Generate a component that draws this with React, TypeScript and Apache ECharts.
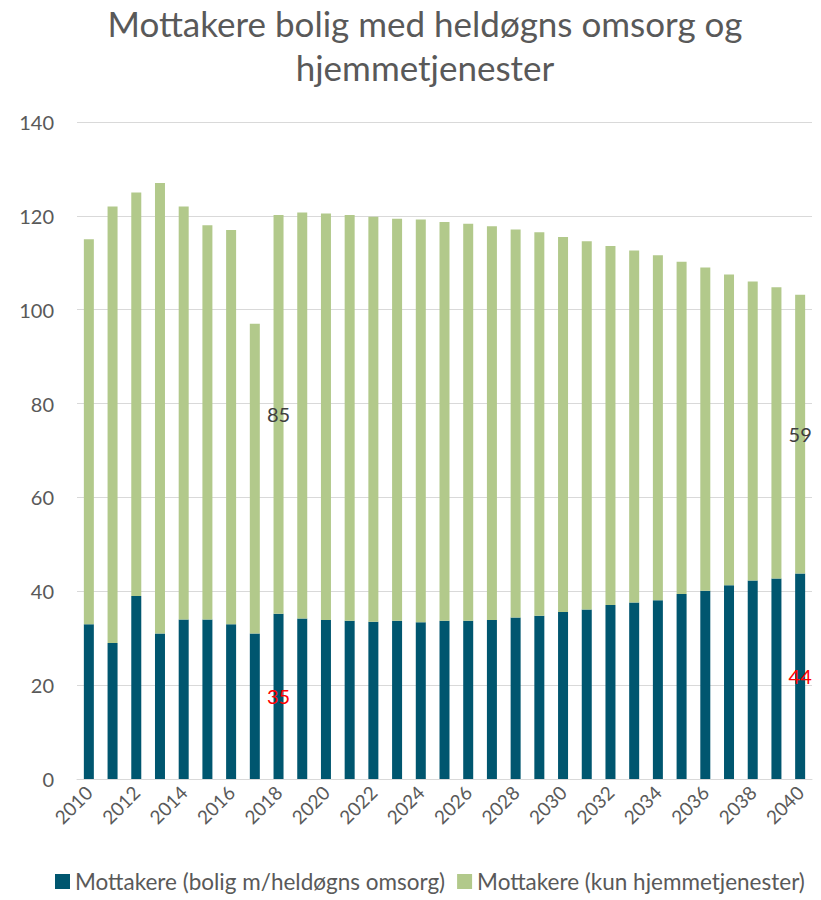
import React, { useEffect, useRef } from "react";
import * as echarts from "echarts";

const years: string[] = [
  "2010","2011","2012","2013","2014","2015","2016","2017","2018","2019",
  "2020","2021","2022","2023","2024","2025","2026","2027","2028","2029",
  "2030","2031","2032","2033","2034","2035","2036","2037","2038","2039","2040",
];

const boligHeldogns: number[] = [
  33, 29, 39, 31, 34, 34, 33, 31, 35.2, 34.2,
  33.9, 33.7, 33.5, 33.7, 33.4, 33.7, 33.7, 33.9, 34.4, 34.8,
  35.6, 36.1, 37.1, 37.6, 38.1, 39.4, 40.1, 41.3, 42.3, 42.7, 43.8,
];

const kunHjemmetjenester: number[] = [
  82, 93, 86, 96, 88, 84, 84, 66, 85.0, 86.5,
  86.6, 86.5, 86.3, 85.7, 85.8, 85.0, 84.6, 83.9, 82.7, 81.7,
  79.9, 78.5, 76.5, 75.0, 73.5, 70.8, 68.9, 66.2, 63.7, 62.1, 59.4,
];

const labelledIndexes: number[] = [8, 30];

const seriesNames: string[] = [
  "Mottakere (bolig m/heldøgns omsorg)",
  "Mottakere (kun hjemmetjenester)",
];

const FONT = "Lato, 'Open Sans', sans-serif";

export default function App() {
  const ref = useRef<HTMLDivElement>(null);

  useEffect(() => {
    document.body.style.margin = "0";
    if (!ref.current) return;
    const chart = echarts.init(ref.current, undefined, { renderer: "svg" });

    const darkData = boligHeldogns.map((v, i) =>
      labelledIndexes.includes(i)
        ? { value: v, label: { show: true, color: "#FF0000" } }
        : v
    );
    const greenData = kunHjemmetjenester.map((v, i) =>
      labelledIndexes.includes(i)
        ? { value: v, label: { show: true, color: "#404040" } }
        : v
    );

    chart.setOption({
      animation: false,
      textStyle: { fontFamily: FONT },
      title: {
        text: "Mottakere bolig med heldøgns omsorg og\nhjemmetjenester",
        left: 420,
        textAlign: "center",
        top: -4,
        textStyle: {
          fontFamily: FONT,
          fontSize: 35,
          fontWeight: "normal",
          color: "#595959",
          lineHeight: 44,
        },
      },
      legend: {
        bottom: 2,
        left: 50,
        width: 790,
        itemWidth: 15,
        itemHeight: 15,
        itemGap: 12,
        icon: "rect",
        textStyle: { fontFamily: FONT, fontSize: 22.5, color: "#595959" },
        data: seriesNames,
      },
      grid: { left: 77, right: 9, top: 122, bottom: 121, containLabel: false },
      xAxis: {
        type: "category",
        data: years,
        axisTick: { show: false },
        axisLine: { lineStyle: { color: "#D9D9D9", width: 1 } },
        axisLabel: {
          interval: 1,
          rotate: 45,
          fontFamily: FONT,
          fontSize: 19,
          color: "#595959",
          margin: 10,
        },
      },
      yAxis: {
        type: "value",
        min: 0,
        max: 140,
        interval: 20,
        axisLine: { show: false },
        axisTick: { show: false },
        splitLine: { lineStyle: { color: "#D9D9D9", width: 1 } },
        axisLabel: {
          fontFamily: FONT,
          fontSize: 20,
          color: "#595959",
          margin: 23,
        },
      },
      series: [
        {
          name: seriesNames[0],
          type: "bar",
          stack: "total",
          barWidth: 10,
          itemStyle: { color: "#00566F" },
          label: {
            show: false,
            position: "inside",
            fontFamily: FONT,
            fontSize: 20,
            formatter: (p: any) => String(Math.round(p.value)),
          },
          data: darkData,
        },
        {
          name: seriesNames[1],
          type: "bar",
          stack: "total",
          barWidth: 10,
          itemStyle: { color: "#B2C98B" },
          label: {
            show: false,
            position: "inside",
            fontFamily: FONT,
            fontSize: 20,
            formatter: (p: any) => String(Math.round(p.value)),
          },
          data: greenData,
        },
      ],
    });

    return () => chart.dispose();
  }, []);

  return <div ref={ref} style={{ width: 821, height: 900 }} />;
}
